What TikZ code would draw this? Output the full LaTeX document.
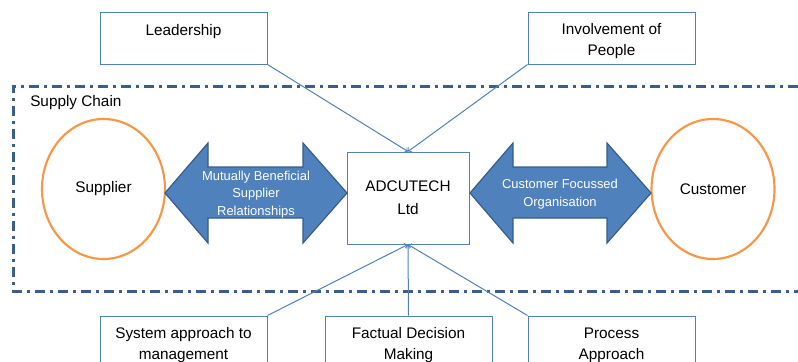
\documentclass[tikz,border=0pt]{standalone}
\usepackage{fontspec}
\setmainfont{Liberation Sans}
\usepackage{tikz}
\usetikzlibrary{shapes}
\usetikzlibrary{shapes.geometric}
\usetikzlibrary{arrows}

\definecolor{boxblue}{HTML}{4F81BD}
\definecolor{edgeblue}{HTML}{385D8A}
\definecolor{chainblue}{HTML}{3A5D8C}
\definecolor{ringorange}{HTML}{F79646}

\tikzset{
  box/.style={draw=boxblue, line width=0.75pt, rectangle,
    minimum width=125.25pt, minimum height=39pt, inner sep=0pt,
    align=center, font=\fontsize{11.5}{15.75}\selectfont},
  principle/.style={box, text height=28pt},
  party/.style={draw=ringorange, line width=1.6pt, ellipse,
    minimum width=92.25pt, minimum height=105pt,
    font=\fontsize{11.5}{15.75}\selectfont},
  relation/.style={fill=boxblue, draw=edgeblue, line width=0.9pt, line join=miter},
  relationtext/.style={text=white, align=center, inner sep=0pt,
    font=\fontsize{9.7}{13.1}\selectfont},
  link/.style={draw=boxblue, line width=0.75pt, ->},
  chain/.style={draw=chainblue, line width=2.25pt,
    dash pattern=on 7.5pt off 3.75pt on 2.25pt off 3.75pt}
}

\begin{document}
\begin{tikzpicture}[x=0.75pt, y=-0.75pt]
\clip (0,0) rectangle (798,361);
% supply chain frame
\draw[chain] (798,86) -- (13,86) -- (13,291) -- (798,291);
\node[anchor=west, inner sep=0pt, font=\fontsize{11.5}{13}\selectfont] (chain) at (30,103) {Supply Chain};

% company in the middle
\node[box, minimum width=91.5pt, minimum height=69pt,
   font=\fontsize{11.5}{17}\selectfont] (adc) at (408,198) {ADCUTECH\\Ltd};

% supplier and customer
\node[party] (supplier) at (103.5,189) {Supplier};
\node[party] (customer) at (713,189) {Customer};

% relationships
\draw[relation] (165,193) -- (208,143) -- (208,167) -- (303,167) -- (303,143)
   -- (347,193) -- (303,243) -- (303,218) -- (208,218) -- (208,243) -- cycle;
\node[relationtext] (mbsr) at (256,194.5) {Mutually Beneficial\\Supplier\\Relationships};
\draw[relation] (470,193) -- (513,143) -- (513,167) -- (607,167) -- (607,143)
   -- (651,193) -- (607,243) -- (607,218) -- (513,218) -- (513,243) -- cycle;
\node[relationtext] (cfo) at (560,194) {Customer Focussed\\Organisation};

% principles
\node[principle] (leader) at (183.5,38) {Leadership\\\mbox{}};
\node[principle] (people) at (611.5,38) {Involvement of\\People};
\node[principle] (system) at (183.5,342) {System approach to\\management};
\node[principle] (factual) at (408.5,342) {Factual Decision\\Making};
\node[principle] (process) at (611.5,342) {Process\\Approach};

\draw[link] (leader.south east) -- (adc.north);
\draw[link] (people.south west) -- (adc.north);
\draw[link] (system.north east) -- (adc.south);
\draw[link] (factual.north) -- (adc.south);
\draw[link] (process.north west) -- (adc.south);
\end{tikzpicture}
\end{document}
